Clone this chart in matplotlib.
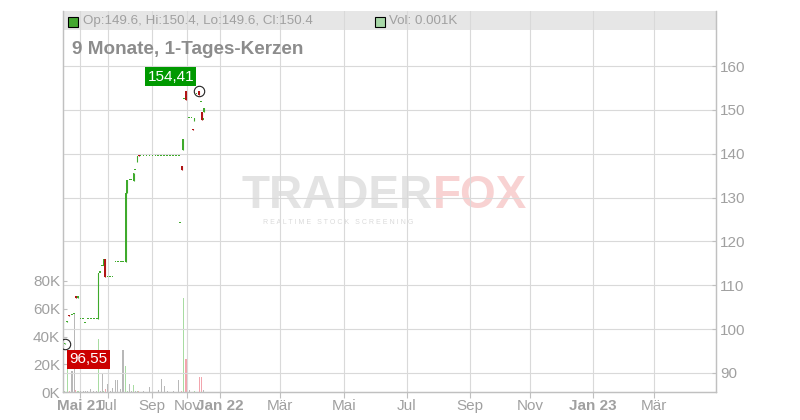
import matplotlib
matplotlib.use('Agg')
import matplotlib.pyplot as plt
from matplotlib.patches import Rectangle
import numpy as np

plt.rcParams['font.family'] = ['Liberation Sans', 'DejaVu Sans']

# ---- data (ordinal slot positions, OHLC, volume in K) ----
slot = [0.5, 1.4, 2.1, 3.0, 3.7, 4.2, 5.0, 5.8, 6.7, 7.4, 8.2, 9.2, 10.2, 11.2,
        11.8, 12.4, 13.1, 13.6, 14.1, 14.8, 15.7, 16.5, 17.5, 18.3, 19.2, 20.0,
        20.9, 21.4, 22.2, 22.8, 23.5, 24.1, 24.8, 25.2,
        25.8, 26.8, 27.8, 28.8, 29.8, 30.8, 31.7, 32.7, 33.7, 34.7, 35.7, 36.7, 37.6, 38.6,
        39.1, 39.6, 40.1, 40.4, 41.0, 42.1, 42.8, 43.4, 43.8, 44.5, 45.4, 45.9, 46.2, 46.8, 47.1]
opens = [96.6, 101.6, 103.3, 103.3, 103.4, 107.5, 107.2, 102.4, 102.4, 101.3, 102.2, 102.2, 102.2, 102.2,
         102.2, 112.9, 114.4, 114.3, 116.1, 111.9, 111.9, 111.9, 115.3, 115.3, 115.3, 115.3,
         115.3, 131.0, 133.9, 133.9, 133.8, 136.2, 138.0, 139.7,
         139.5, 139.5, 139.5, 139.5, 139.5, 139.5, 139.5, 139.5, 139.5, 139.5, 139.5, 139.5, 139.5, 139.5,
         124.2, 137.3, 140.8, 152.4, 154.3, 148.2, 148.2, 145.7, 147.5, 153.6, 154.2, 151.8, 149.6, 147.8, 149.6]
highs = [96.8, 101.8, 103.3, 103.3, 103.4, 107.6, 107.3, 102.4, 102.4, 101.3, 102.2, 102.2, 102.2, 102.2,
         112.8, 112.9, 114.4, 116.1, 116.1, 111.9, 111.9, 111.9, 115.3, 115.3, 115.3, 115.3,
         131.0, 133.9, 133.9, 133.9, 135.5, 136.2, 139.4, 139.7,
         139.5, 139.5, 139.5, 139.5, 139.5, 139.5, 139.5, 139.5, 139.5, 139.5, 139.5, 139.5, 139.5, 139.5,
         124.2, 137.3, 143.4, 152.4, 154.3, 148.2, 148.2, 145.7, 148.2, 153.6, 154.41, 151.8, 149.6, 147.8, 150.4]
lows = [96.55, 101.6, 102.9, 103.3, 103.4, 107.0, 107.2, 102.4, 102.4, 101.3, 102.2, 102.2, 102.2, 102.2,
        102.2, 112.9, 114.4, 114.3, 111.8, 111.9, 111.9, 111.9, 115.3, 115.3, 115.3, 115.3,
        115.3, 131.0, 133.9, 133.9, 133.8, 136.2, 138.0, 139.5,
        139.5, 139.5, 139.5, 139.5, 139.5, 139.5, 139.5, 139.5, 139.5, 139.5, 139.5, 139.5, 139.5, 139.5,
        124.2, 136.4, 140.8, 152.4, 152.3, 148.2, 148.2, 145.4, 147.5, 153.6, 153.4, 151.8, 147.6, 147.8, 149.6]
closes = [96.8, 101.8, 102.9, 103.3, 103.4, 107.0, 107.3, 102.4, 102.4, 101.3, 102.2, 102.2, 102.2, 102.2,
          112.8, 112.9, 114.4, 116.1, 111.8, 111.9, 111.9, 111.9, 115.3, 115.3, 115.3, 115.3,
          131.0, 133.9, 133.9, 133.9, 135.5, 136.2, 139.4, 139.5,
          139.5, 139.5, 139.5, 139.5, 139.5, 139.5, 139.5, 139.5, 139.5, 139.5, 139.5, 139.5, 139.5, 139.5,
          124.2, 136.4, 143.4, 152.4, 152.3, 148.2, 148.2, 145.4, 148.2, 153.6, 153.4, 151.8, 147.6, 147.8, 150.4]
volume_k = [0.5, 30.0, 1.0, 15.0, 57.0, 1.5, 1.0, 0.5, 0.5, 0.5, 1.0, 2.0, 1.0, 0.5,
            38.0, 1.0, 13.0, 1.0, 2.5, 5.5, 1.0, 3.0, 8.5, 9.0, 2.0, 30.0,
            18.6, 1.0, 5.7, 0.5, 5.0, 0.5, 0.5, 0.5,
            0.3, 1.0, 0.3, 3.5, 0.3, 0.3, 1.2, 9.3, 4.5, 0.5, 0.3, 0.5, 0.3, 8.6,
            0.3, 1.0, 67.6, 0.3, 23.6, 1.5, 0.3, 0.3, 0.5, 0.3, 10.7, 0.3, 10.7, 1.4, 0.001]

tick_pos = [5.67, 15.0, 29.67, 41.33, 52.33, 72.33, 93.67, 114.67, 135.67, 155.67, 176.67, 197.0]
tick_labels = ['Mai 21', 'Jul', 'Sep', 'Nov', 'Jan 22', 'Mär', 'Mai', 'Jul', 'Sep', 'Nov', 'Jan 23', 'Mär']
tick_bold = [True, False, False, False, True, False, False, False, False, False, True, False]
price_ticks = [90, 100, 110, 120, 130, 140, 150, 160]
vol_ticks = [0, 20, 40, 60, 80]

title = '9 Monate, 1-Tages-Kerzen'
header_ohlc = 'Op:149.6, Hi:150.4, Lo:149.6, Cl:150.4'
header_vol = 'Vol: 0.001K'

# ---- figure ----
W, H = 800, 420
fig = plt.figure(figsize=(W / 100, H / 100), dpi=100)
L, R, T, B = 63, 716, 11, 392
ax_v = fig.add_axes([L / W, (H - B) / H, (R - L) / W, (B - T) / H])
ax_p = ax_v.twinx()

GRID = '#d9d9d9'
AXC = '#c0c0c0'
TXT = '#a0a0a0'
UP, DOWN = '#3faa2c', '#b01515'
VUP, VDOWN, VFLAT = '#a8dca2', '#f2a5ad', '#b8b8b8'

x = np.array(slot)
o = np.array(opens); h = np.array(highs); l = np.array(lows); c = np.array(closes)
v = np.array(volume_k)

# header band & watermark (figure coords, below grid)
ax_v.add_patch(Rectangle((L / W, 1 - 30 / H), (R - L) / W, 19 / H, transform=fig.transFigure,
                         facecolor='#e6e6e6', edgecolor='none', zorder=0.1, clip_on=False))
ax_v.text(433 / W, 1 - 208 / H, 'TRADER', transform=fig.transFigure, ha='right', va='baseline',
          fontsize=33, fontweight='bold', color='#e3e3e3', zorder=0.2)
ax_v.text(433 / W, 1 - 208 / H, 'FOX', transform=fig.transFigure, ha='left', va='baseline',
          fontsize=33, fontweight='bold', color='#f8d2d2', zorder=0.2)
ax_v.text(338 / W, 1 - 224 / H, 'R E A L T I M E   S T O C K   S C R E E N I N G', transform=fig.transFigure,
          ha='center', va='baseline', fontsize=5, color='#dadada', zorder=0.2)

# volume bars
vcol = [VUP if cc > oo else (VDOWN if cc < oo else VFLAT) for oo, cc in zip(o, c)]
ax_v.bar(x, v, width=0.35, color=vcol, zorder=1, linewidth=0)
ax_v.set_ylim(0, (B - T) / 1.3875)
ax_v.set_xlim(0, (R - L) / 3)
ax_v.set_yticks(vol_ticks)
ax_v.set_yticklabels([f'{t}K' for t in vol_ticks])
ax_v.set_xticks(tick_pos)
ax_v.set_xticklabels(tick_labels)
for lab, b in zip(ax_v.get_xticklabels(), tick_bold):
    if b:
        lab.set_fontweight('bold')
ax_v.set_axisbelow(True)
ax_v.grid(axis='x', color=GRID, linewidth=0.8)
ax_v.tick_params(axis='x', direction='out', length=4, pad=1, color=AXC, labelcolor=TXT, labelsize=11)
ax_v.tick_params(axis='y', direction='in', length=3, pad=2, color=AXC, labelcolor=TXT, labelsize=11)

# price candles
ax_p.set_ylim(90 - (B - 373) / 4.3857, 160 + (66 - T) / 4.3857)
ax_p.set_yticks(price_ticks)
ax_p.set_yticklabels([str(t) for t in price_ticks])
ax_p.grid(axis='y', color=GRID, linewidth=0.8, zorder=0)
ax_p.tick_params(axis='y', direction='in', length=3, pad=3, color=AXC, labelcolor=TXT, labelsize=11)
ccol = [DOWN if cc < oo else UP for oo, cc in zip(o, c)]
ax_p.vlines(x, l, h, colors=ccol, linewidth=0.8, zorder=3)
body_h = np.maximum(np.abs(c - o), 0.25)
ax_p.bar(x, body_h, bottom=np.minimum(o, c), width=0.6, color=ccol, linewidth=0, zorder=3)

# high / low markers
ih = int(np.argmax(h)); il = int(np.argmin(l))
for i in (ih, il):
    yy = h[i] if i == ih else l[i]
    ax_p.plot([x[i]], [yy], marker='o', markersize=7.5, mfc='none', mec='#222222', mew=0.8, zorder=5)
ax_p.annotate(f'{h[ih]:.2f}'.replace('.', ','), (x[ih], h[ih]), xytext=(-5, 7), textcoords='offset pixels',
              ha='right', va='bottom', fontsize=11, color='white', zorder=6,
              bbox=dict(boxstyle='square,pad=0.15', fc='#009900', ec='none'))
ax_p.annotate(f'{l[il]:.2f}'.replace('.', ','), (x[il], l[il]), xytext=(5, -8), textcoords='offset pixels',
              ha='left', va='top', fontsize=11, color='white', zorder=6,
              bbox=dict(boxstyle='square,pad=0.15', fc='#cc0000', ec='none'))

for axx in (ax_v, ax_p):
    axx.spines['top'].set_visible(False)
    for s in ('left', 'right', 'bottom'):
        axx.spines[s].set_color(AXC)
        axx.spines[s].set_linewidth(0.9)

# header items
fig.patches.append(Rectangle((68 / W, 1 - 27 / H), 10 / W, 10 / H, transform=fig.transFigure,
                             facecolor='#44a830', edgecolor='black', linewidth=0.8))
fig.text(83 / W, 1 - 21 / H, header_ohlc, ha='left', va='center', fontsize=9.6, color=TXT)
fig.patches.append(Rectangle((375 / W, 1 - 27 / H), 10 / W, 10 / H, transform=fig.transFigure,
                             facecolor='#a8d8a8', edgecolor='black', linewidth=0.8))
fig.text(389 / W, 1 - 21 / H, header_vol, ha='left', va='center', fontsize=9.6, color=TXT)
fig.text(72 / W, 1 - 54.3 / H, title, ha='left', va='baseline', fontsize=13.6, fontweight='bold', color='#8c8c8c')

fig.savefig('out.png', dpi=100)
